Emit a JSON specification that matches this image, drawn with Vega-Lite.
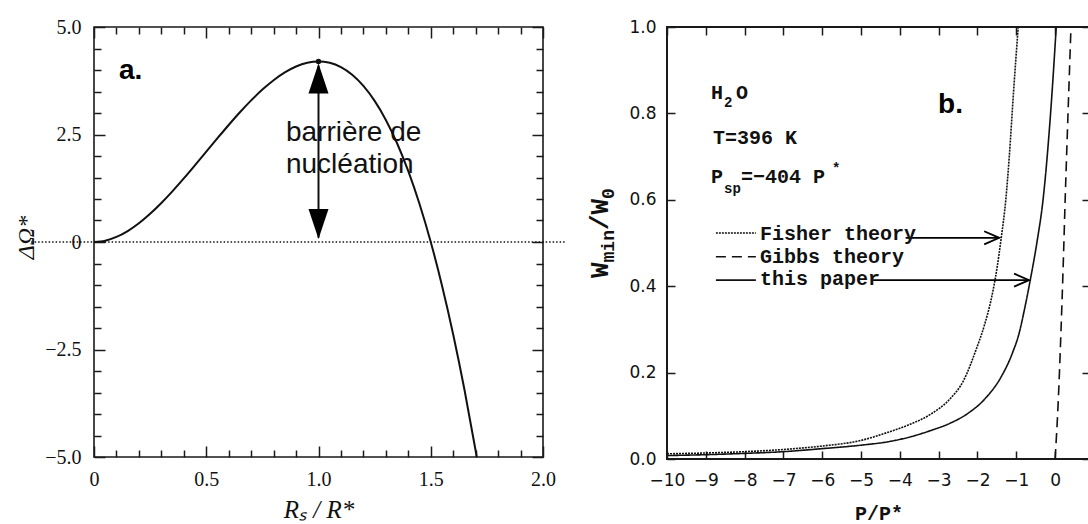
{
  "$schema": "https://vega.github.io/schema/vega-lite/v6.json",
  "background": "white",
  "padding": {"left": 13, "top": 16, "right": 0, "bottom": 0},
  "autosize": {"type": "pad"},
  "spacing": 124,
  "bounds": "flush",
  "datasets": {
    "curveA": [
      {"x":0,"y":0},{"x":0.05,"y":0.0305},{"x":0.1,"y":0.1176},{"x":0.15,"y":0.2552},{"x":0.2,"y":0.4368},{"x":0.25,"y":0.6563},{"x":0.3,"y":0.9072},{"x":0.35,"y":1.1834},{"x":0.4,"y":1.4784},{"x":0.45,"y":1.7861},{"x":0.5,"y":2.1},{"x":0.55,"y":2.414},{"x":0.6,"y":2.7216},{"x":0.65,"y":3.0167},{"x":0.7,"y":3.2928},{"x":0.75,"y":3.5438},{"x":0.8,"y":3.7632},{"x":0.85,"y":3.9449},{"x":0.9,"y":4.0824},{"x":0.95,"y":4.1696},{"x":1,"y":4.2},{"x":1.05,"y":4.1675},{"x":1.1,"y":4.0656},{"x":1.15,"y":3.8882},{"x":1.2,"y":3.6288},{"x":1.25,"y":3.2813},{"x":1.3,"y":2.8392},{"x":1.35,"y":2.2964},{"x":1.4,"y":1.6464},{"x":1.45,"y":0.8831},{"x":1.5,"y":0},{"x":1.55,"y":-1.0091},{"x":1.6,"y":-2.1504},{"x":1.65,"y":-3.4304},{"x":1.7,"y":-4.8552},{"x":1.71,"y":-5.158}
    ],
    "zeroA": [{"x":-0.28,"x2":2.1,"y":0}],
    "peakA": [{"x":1,"y":4.2}],
    "shaftA": [{"x":1,"y":4.1,"y2":0.1}],
    "headsA": [{"x":1,"y":4.15,"dir":"up"},{"x":1,"y":0.07,"dir":"down"}],
    "textA": [{"t":"barrière de","x":0.855,"y":2.35},{"t":"nucléation","x":0.855,"y":1.6}],
    "labelA": [{"t":"a.","x":0.111,"y":3.79}],
    "curvesB": [
      {"s":"Fisher theory","x":-10,"y":0.012},{"s":"Fisher theory","x":-9,"y":0.014},{"s":"Fisher theory","x":-8,"y":0.017},{"s":"Fisher theory","x":-7,"y":0.022},{"s":"Fisher theory","x":-6,"y":0.03},{"s":"Fisher theory","x":-5,"y":0.043},{"s":"Fisher theory","x":-4.3,"y":0.062},{"s":"Fisher theory","x":-3.8,"y":0.078},{"s":"Fisher theory","x":-3.2,"y":0.104},{"s":"Fisher theory","x":-2.73,"y":0.137},{"s":"Fisher theory","x":-2.35,"y":0.183},{"s":"Fisher theory","x":-2.04,"y":0.252},{"s":"Fisher theory","x":-1.82,"y":0.31},{"s":"Fisher theory","x":-1.65,"y":0.368},{"s":"Fisher theory","x":-1.5,"y":0.44},{"s":"Fisher theory","x":-1.39,"y":0.51},{"s":"Fisher theory","x":-1.27,"y":0.6},{"s":"Fisher theory","x":-1.18,"y":0.7},{"s":"Fisher theory","x":-1.07,"y":0.85},{"s":"Fisher theory","x":-0.95,"y":1.0},
      {"s":"Gibbs theory","x":0,"y":0},{"s":"Gibbs theory","x":0.08,"y":0.13},{"s":"Gibbs theory","x":0.15,"y":0.29},{"s":"Gibbs theory","x":0.21,"y":0.45},{"s":"Gibbs theory","x":0.26,"y":0.6},{"s":"Gibbs theory","x":0.33,"y":0.79},{"s":"Gibbs theory","x":0.41,"y":1.0},
      {"s":"this paper","x":-10,"y":0.008},{"s":"this paper","x":-9,"y":0.01},{"s":"this paper","x":-8,"y":0.013},{"s":"this paper","x":-7,"y":0.017},{"s":"this paper","x":-6,"y":0.024},{"s":"this paper","x":-5,"y":0.032},{"s":"this paper","x":-4.3,"y":0.04},{"s":"this paper","x":-3.7,"y":0.052},{"s":"this paper","x":-3.2,"y":0.066},{"s":"this paper","x":-2.7,"y":0.083},{"s":"this paper","x":-2.24,"y":0.106},{"s":"this paper","x":-1.8,"y":0.14},{"s":"this paper","x":-1.39,"y":0.19},{"s":"this paper","x":-1.1,"y":0.245},{"s":"this paper","x":-0.93,"y":0.29},{"s":"this paper","x":-0.78,"y":0.35},{"s":"this paper","x":-0.64,"y":0.414},{"s":"this paper","x":-0.47,"y":0.5},{"s":"this paper","x":-0.31,"y":0.6},{"s":"this paper","x":-0.1,"y":0.82},{"s":"this paper","x":0.03,"y":1.0}
    ],
    "legendB": [
      {"s":"Fisher theory","x":-8.74,"x2":-7.71,"y":0.523},
      {"s":"Gibbs theory","x":-8.74,"x2":-7.71,"y":0.468},
      {"s":"this paper","x":-8.74,"x2":-7.71,"y":0.414}
    ],
    "arrowsB": [
      {"x":-3.85,"x2":-1.44,"y":0.512},
      {"x":-4.69,"x2":-0.67,"y":0.414}
    ],
    "textB": [
      {"t":"H","x":-8.866,"y":0.833},
      {"t":"O","x":-8.222,"y":0.833},
      {"t":"T=396 K","x":-8.814,"y":0.729},
      {"t":"P","x":-8.866,"y":0.639},
      {"t":"=−404 P","x":-8.093,"y":0.639},
      {"t":"Fisher theory","x":-7.603,"y":0.507},
      {"t":"Gibbs theory","x":-7.603,"y":0.454},
      {"t":"this paper","x":-7.603,"y":0.403}
    ],
    "smallB": [
      {"t":"2","x":-8.531,"y":0.815},
      {"t":"sp","x":-8.531,"y":0.616},
      {"t":"*","x":-5.75,"y":0.662}
    ],
    "ytitleB": [
      {"t":"W","x":-11.52,"y":0.419},
      {"t":"/W","x":-11.52,"y":0.53}
    ],
    "ytitleSubB": [
      {"t":"min","x":-11.37,"y":0.455},
      {"t":"0","x":-11.37,"y":0.602}
    ],
    "labelB": [{"t":"b.","x":-3.015,"y":0.801}]
  },
  "hconcat": [
    {
      "width": 449,
      "height": 430,
      "view": {"stroke": "#1a1a1a", "strokeWidth": 1.6},
      "layer": [
        {
          "data": {"name": "curveA"},
          "mark": {"type": "line", "clip": true, "color": "#111", "strokeWidth": 2, "interpolate": "monotone"},
          "encoding": {
            "x": {"field": "x", "type": "quantitative", "scale": {"domain": [0, 2], "nice": false, "zero": false},
              "axis": {"orient": "bottom", "values": [0, 0.5, 1, 1.5, 2], "tickSize": -11, "labelPadding": 23,
                "labelExpr": "datum.value == 0 ? '0' : format(datum.value, '.1f')", "labelFont": "Liberation Serif", "labelFontSize": 20, "labelFlush": false,
                "title": "Rₛ / R*", "titleFont": "Liberation Serif", "titleFontSize": 25, "titleFontStyle": "italic", "titleFontWeight": "normal", "titleBaseline": "alphabetic", "titleY": 60}},
            "y": {"field": "y", "type": "quantitative", "scale": {"domain": [-5, 5], "nice": false},
              "axis": {"orient": "left", "values": [-5, -2.5, 0, 2.5, 5], "tickSize": -11, "labelPadding": 24,
                "labelExpr": "datum.value == 0 ? '0' : format(datum.value, '.1f')", "labelFont": "Liberation Serif", "labelFontSize": 20, "labelFlush": false,
                "title": "ΔΩ*", "titleFont": "Liberation Serif", "titleFontSize": 24, "titleFontStyle": "italic", "titleFontWeight": "normal", "titleBaseline": "middle", "titleX": -68, "titleY": 210, "titleAngle": 270}}
          }
        },
        {
          "data": {"name": "zeroA"},
          "mark": {"type": "rule", "clip": false, "color": "#111", "strokeWidth": 1.5, "strokeDash": [1.5, 2]},
          "encoding": {
            "x": {"field": "x", "type": "quantitative", "axis": {"orient": "bottom", "values": [0.1,0.2,0.3,0.4,0.6,0.7,0.8,0.9,1.1,1.2,1.3,1.4,1.6,1.7,1.8,1.9], "tickSize": -7, "labels": false, "title": null}},
            "x2": {"field": "x2"},
            "y": {"field": "y", "type": "quantitative", "axis": {"orient": "left", "values": [-4.5,-4,-3.5,-3,-2,-1.5,-1,-0.5,0.5,1,1.5,2,3,3.5,4,4.5], "tickSize": -7, "labels": false, "title": null}}
          }
        },
        {
          "data": {"name": "peakA"},
          "mark": {"type": "point", "filled": true, "color": "#111", "size": 30, "opacity": 1},
          "encoding": {
            "x": {"field": "x", "type": "quantitative", "axis": {"orient": "top", "values": [0, 0.5, 1, 1.5, 2], "tickSize": -11, "labels": false, "title": null}},
            "y": {"field": "y", "type": "quantitative", "axis": {"orient": "right", "values": [-5, -2.5, 0, 2.5, 5], "tickSize": -11, "labels": false, "title": null}}
          }
        },
        {
          "data": {"name": "shaftA"},
          "mark": {"type": "rule", "color": "#111", "strokeWidth": 2},
          "encoding": {
            "x": {"field": "x", "type": "quantitative", "axis": {"orient": "top", "values": [0.1,0.2,0.3,0.4,0.6,0.7,0.8,0.9,1.1,1.2,1.3,1.4,1.6,1.7,1.8,1.9], "tickSize": -7, "labels": false, "title": null}},
            "y": {"field": "y", "type": "quantitative", "axis": {"orient": "right", "values": [-4.5,-4,-3.5,-3,-2,-1.5,-1,-0.5,0.5,1,1.5,2,3,3.5,4,4.5], "tickSize": -7, "labels": false, "title": null}},
            "y2": {"field": "y2"}
          }
        },
        {
          "data": {"name": "headsA"},
          "mark": {"type": "point", "filled": true, "color": "#000", "size": 900, "opacity": 1},
          "encoding": {
            "x": {"field": "x", "type": "quantitative", "axis": null},
            "y": {"field": "y", "type": "quantitative", "axis": null},
            "shape": {"field": "dir", "type": "nominal", "scale": {"domain": ["up", "down"], "range": ["M0,0L-0.667,2L0.667,2Z", "M0,0L-0.667,-2L0.667,-2Z"]}, "legend": null}
          }
        },
        {
          "data": {"name": "textA"},
          "mark": {"type": "text", "font": "Liberation Sans", "fontSize": 28, "align": "left", "baseline": "alphabetic", "color": "#111"},
          "encoding": {
            "x": {"field": "x", "type": "quantitative", "axis": null},
            "y": {"field": "y", "type": "quantitative", "axis": null},
            "text": {"field": "t"}
          }
        },
        {
          "data": {"name": "labelA"},
          "mark": {"type": "text", "font": "Liberation Sans", "fontSize": 28, "fontWeight": "bold", "align": "left", "baseline": "alphabetic", "color": "#000"},
          "encoding": {
            "x": {"field": "x", "type": "quantitative", "axis": null},
            "y": {"field": "y", "type": "quantitative", "axis": null},
            "text": {"field": "t"}
          }
        }
      ],
      "resolve": {"axis": {"x": "independent", "y": "independent"}}
    },
    {
      "width": 423,
      "height": 432,
      "view": {"stroke": "#1a1a1a", "strokeWidth": 2},
      "layer": [
        {
          "data": {"name": "curvesB"},
          "mark": {"type": "line", "clip": true, "color": "#111", "strokeWidth": 1.6, "interpolate": "monotone"},
          "encoding": {
            "x": {"field": "x", "type": "quantitative", "scale": {"domain": [-10, 0.9], "nice": false, "zero": false},
              "axis": {"orient": "bottom", "values": [-10,-9,-8,-7,-6,-5,-4,-3,-2,-1,0], "tickSize": -8, "labelPadding": 21,
                "labelExpr": "format(datum.value, 'd')", "labelFont": "DejaVu Sans", "labelFontSize": 17, "labelFlush": false,
                "title": "P/P*", "titleFont": "Liberation Mono", "titleFontSize": 20, "titleFontWeight": "bold", "titleBaseline": "alphabetic", "titleY": 60}},
            "y": {"field": "y", "type": "quantitative", "scale": {"domain": [0, 1], "nice": false},
              "axis": {"orient": "left", "values": [0, 0.2, 0.4, 0.6, 0.8, 1], "tickSize": -8, "labelPadding": 19,
                "labelExpr": "format(datum.value, '.1f')", "labelFont": "DejaVu Sans", "labelFontSize": 17, "labelFlush": false,
                "title": null}},
            "detail": {"field": "s"},
            "strokeDash": {"field": "s", "type": "nominal", "scale": {"domain": ["Fisher theory", "Gibbs theory", "this paper"], "range": [[2, 1], [10, 6], [1, 0]]}, "legend": null}
          }
        },
        {
          "data": {"name": "legendB"},
          "mark": {"type": "rule", "color": "#111", "strokeWidth": 1.6},
          "encoding": {
            "x": {"field": "x", "type": "quantitative", "axis": {"orient": "top", "values": [-10,-9,-8,-7,-6,-5,-4,-3,-2,-1,0], "tickSize": -8, "labels": false, "title": null}},
            "x2": {"field": "x2"},
            "y": {"field": "y", "type": "quantitative", "axis": {"orient": "right", "values": [0, 0.2, 0.4, 0.6, 0.8, 1], "tickSize": -8, "labels": false, "title": null}},
            "strokeDash": {"field": "s", "type": "nominal", "legend": null}
          }
        },
        {
          "data": {"name": "arrowsB"},
          "mark": {"type": "rule", "color": "#000", "strokeWidth": 1.8},
          "encoding": {
            "x": {"field": "x", "type": "quantitative", "axis": null},
            "x2": {"field": "x2"},
            "y": {"field": "y", "type": "quantitative", "axis": null}
          }
        },
        {
          "data": {"name": "arrowsB"},
          "mark": {"type": "point", "filled": false, "stroke": "#000", "strokeWidth": 1.8, "size": 225, "opacity": 1, "shape": "M-2,-0.87L0,0L-2,0.87"},
          "encoding": {
            "x": {"field": "x2", "type": "quantitative", "axis": null},
            "y": {"field": "y", "type": "quantitative", "axis": null}
          }
        },
        {
          "data": {"name": "textB"},
          "mark": {"type": "text", "font": "Liberation Mono", "fontSize": 20, "fontWeight": "bold", "align": "left", "baseline": "alphabetic", "color": "#111"},
          "encoding": {
            "x": {"field": "x", "type": "quantitative", "axis": null},
            "y": {"field": "y", "type": "quantitative", "axis": null},
            "text": {"field": "t"}
          }
        },
        {
          "data": {"name": "smallB"},
          "mark": {"type": "text", "font": "Liberation Mono", "fontSize": 14, "fontWeight": "bold", "align": "left", "baseline": "alphabetic", "color": "#111"},
          "encoding": {
            "x": {"field": "x", "type": "quantitative", "axis": null},
            "y": {"field": "y", "type": "quantitative", "axis": null},
            "text": {"field": "t"}
          }
        },
        {
          "data": {"name": "ytitleB"},
          "mark": {"type": "text", "clip": false, "font": "Liberation Mono", "fontSize": 26, "fontWeight": "bold", "align": "left", "baseline": "alphabetic", "angle": 270, "color": "#111"},
          "encoding": {
            "x": {"field": "x", "type": "quantitative", "axis": null},
            "y": {"field": "y", "type": "quantitative", "axis": null},
            "text": {"field": "t"}
          }
        },
        {
          "data": {"name": "ytitleSubB"},
          "mark": {"type": "text", "clip": false, "font": "Liberation Mono", "fontSize": 18, "fontWeight": "bold", "align": "left", "baseline": "alphabetic", "angle": 270, "color": "#111"},
          "encoding": {
            "x": {"field": "x", "type": "quantitative", "axis": null},
            "y": {"field": "y", "type": "quantitative", "axis": null},
            "text": {"field": "t"}
          }
        },
        {
          "data": {"name": "labelB"},
          "mark": {"type": "text", "font": "Liberation Sans", "fontSize": 28, "fontWeight": "bold", "align": "left", "baseline": "alphabetic", "color": "#000"},
          "encoding": {
            "x": {"field": "x", "type": "quantitative", "axis": null},
            "y": {"field": "y", "type": "quantitative", "axis": null},
            "text": {"field": "t"}
          }
        }
      ],
      "resolve": {"axis": {"x": "independent", "y": "independent"}}
    }
  ],
  "config": {
    "axis": {"grid": false, "domain": false, "tickColor": "#1a1a1a", "tickWidth": 1.5, "labelColor": "#111", "titleColor": "#111"},
    "font": "Liberation Sans"
  }
}
